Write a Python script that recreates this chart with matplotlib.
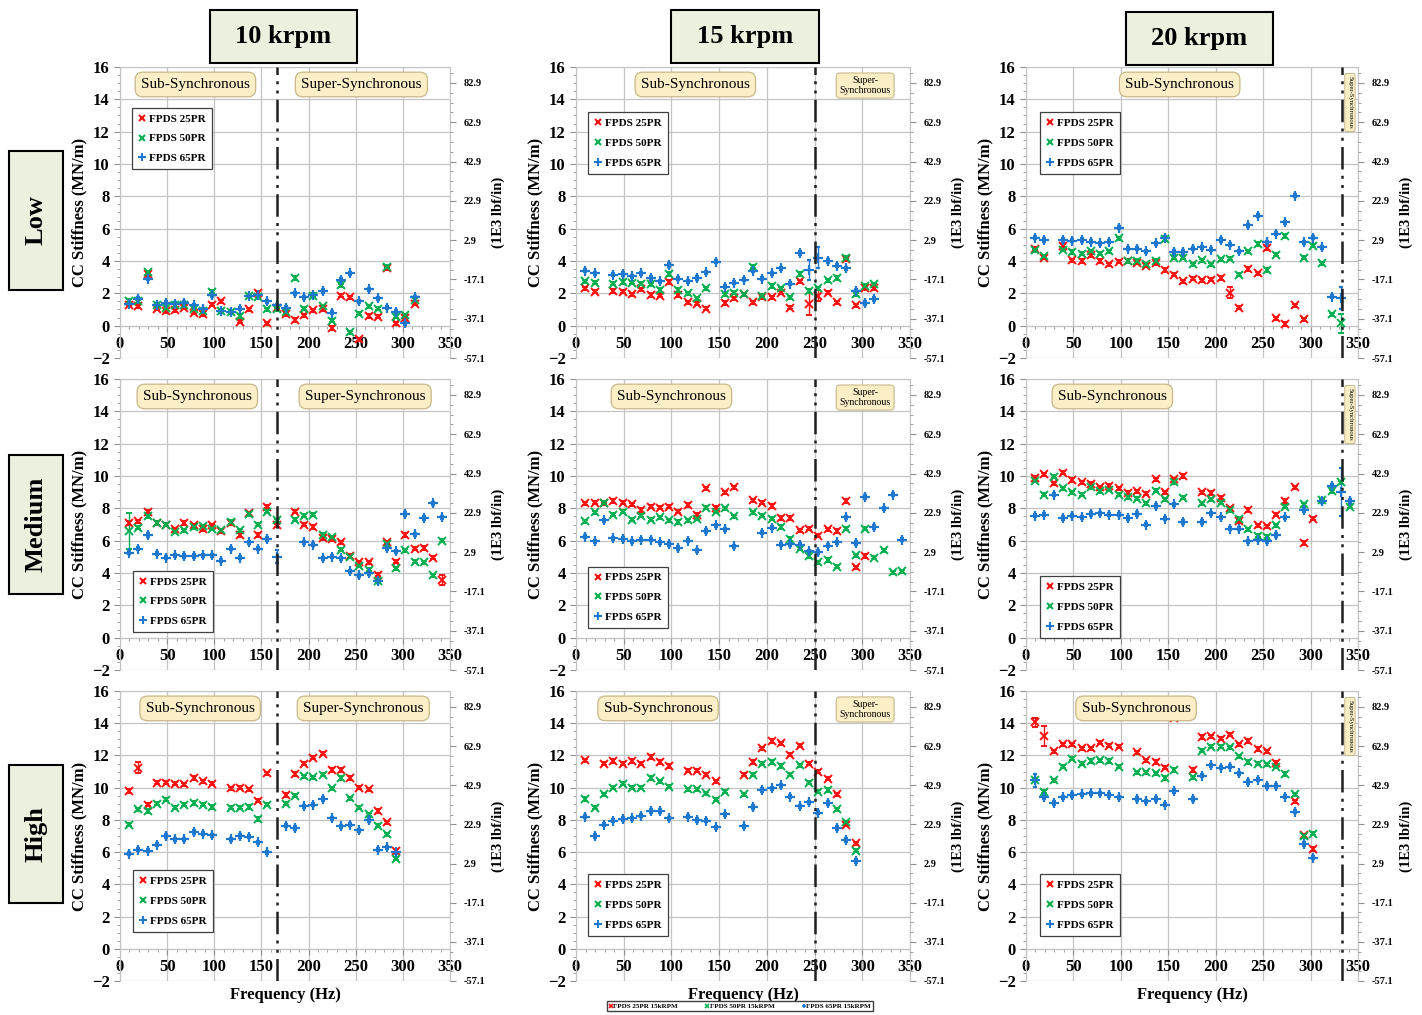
import numpy as np
import matplotlib
matplotlib.use("Agg")
import matplotlib.pyplot as plt
from matplotlib.patches import Rectangle
from matplotlib.ticker import MultipleLocator, AutoMinorLocator
from matplotlib.lines import Line2D

plt.rcParams['font.family'] = ['Liberation Serif', 'DejaVu Serif']

nan = np.nan

# excitation frequencies (Hz)
freq = [9.8, 19.5, 29.3, 39.1, 48.8, 58.6, 68.4, 78.1, 87.9, 97.7, 107.4, 117.2,
        127.0, 136.7, 146.5, 156.3, 166.0, 175.8, 185.5, 195.3, 205.1, 214.8,
        224.6, 234.4, 244.1, 253.9, 263.7, 273.4, 283.2, 293.0, 302.7, 312.5,
        322.3, 332.0, 341.8]

speeds = ['10 krpm', '15 krpm', '20 krpm']
loads = ['Low', 'Medium', 'High']
series_names = ['FPDS 25PR', 'FPDS 50PR', 'FPDS 65PR']
series_colors = ['#ff1010', '#00b050', '#1f78d0']
series_markers = ['x', 'x', '+']

# ---- Low load ----
low10_25 = [1.3, 1.2, 3.2, 1.05, 0.9, 0.95, 1.1, 0.8, 0.7, 1.3, 1.5, nan, 0.25, 1.0, 2.05, 0.15, 1.1, 0.7,
            0.35, 0.65, 0.95, 1.0, -0.15, 1.85, 1.75, -0.85, 0.6, 0.55, 3.55, 0.15, 0.5, 1.35, nan, nan, nan]
low10_50 = [1.55, 1.5, 3.3, 1.25, 1.1, 1.25, 1.25, 1.0, 0.9, 2.1, 0.9, 0.85, 0.6, 1.85, 1.8, 1.0, 1.0, 0.85,
            2.95, 1.05, 1.85, 1.2, 0.3, 2.5, -0.4, 0.75, 1.2, 1.05, 3.65, 0.55, 0.65, 1.6, nan, nan, nan]
low10_65 = [1.35, 1.65, 2.9, 1.3, 1.4, 1.35, 1.4, 1.25, 1.0, 1.9, 0.9, 0.85, 1.05, 1.85, 1.9, 1.5, 1.25, 1.1,
            2.0, 1.75, 1.9, 2.15, 0.8, 2.85, 3.25, 1.5, 2.25, 1.7, 1.1, 0.85, 0.15, 1.75, nan, nan, nan]

low15_25 = [2.3, 2.1, nan, 2.15, 2.1, 1.95, 2.25, 1.9, 1.85, 2.7, 1.9, 1.45, 1.35, 1.05, nan, 1.4, 1.7, 1.95,
            1.45, 1.75, 1.75, 2.05, 1.1, 2.75, 1.35, 1.85, 2.05, 1.45, 4.1, 1.25, 2.3, 2.3, nan, nan, nan]
low15_50 = [2.75, 2.65, nan, 2.6, 2.7, 2.65, 2.6, 2.55, 2.2, 3.2, 2.2, 2.0, 1.7, 2.3, nan, 1.95, 2.05, 1.95,
            3.65, 1.85, 2.45, 2.3, 1.75, 3.2, 2.15, 2.3, 2.8, 2.95, 4.2, 1.95, 2.45, 2.55, nan, nan, nan]
low15_65 = [3.4, 3.25, nan, 3.15, 3.2, 3.05, 3.25, 2.95, 2.75, 3.75, 2.9, 2.75, 2.95, 3.3, 3.95, 2.4, 2.65, 2.85,
            3.4, 2.9, 3.25, 3.55, 2.6, 4.5, 3.45, 4.2, 4.0, 3.7, 3.55, 2.15, 1.4, 1.65, nan, nan, nan]

low20_25 = [4.75, 4.2, nan, 4.95, 4.05, 4.0, 4.35, 4.0, 3.8, 3.95, 4.0, 3.9, 3.7, 3.85, 3.45, 3.15, 2.75, 2.9,
            2.8, 2.85, 2.95, 2.05, 1.1, 3.5, 3.25, 4.8, 0.45, 0.1, 1.25, 0.4, nan, nan, nan, nan, nan]
low20_50 = [4.65, 4.3, nan, 4.7, 4.55, 4.45, 4.6, 4.45, 4.6, 5.4, 4.0, 4.0, 3.8, 4.0, 5.35, 4.2, 4.2, 3.8,
            4.05, 3.8, 4.1, 4.15, 3.15, 4.6, 5.05, 3.45, 4.4, 5.55, nan, 4.2, 4.95, 3.85, 0.7, 0.15, nan]
low20_65 = [5.45, 5.3, nan, 5.3, 5.25, 5.3, 5.2, 5.1, 5.2, 6.05, 4.75, 4.75, 4.6, 5.1, 5.45, 4.55, 4.55, 4.75,
            4.85, 4.7, 5.3, 5.0, 4.6, 6.2, 6.8, 5.15, 5.7, 6.4, 8.05, 5.15, 5.45, 4.85, 1.8, 1.7, nan]

# ---- Medium load ----
med10_25 = [7.1, 7.2, 7.8, 7.1, 7.0, 6.7, 7.1, 6.95, 6.7, 6.95, 6.6, 7.1, 6.35, 7.7, 6.35, 8.1, 6.95, nan,
            7.8, 7.0, 6.85, 6.15, 6.1, 5.9, 5.05, 4.65, 4.65, 3.9, 5.9, 4.7, 6.35, 5.5, 5.55, 4.95, 3.55]
med10_50 = [6.6, 6.8, 7.5, 7.1, 7.0, 6.55, 6.65, 6.85, 6.9, 6.75, 6.65, 7.15, 6.65, 7.65, 7.0, 7.8, 7.25, nan,
            7.3, 7.55, 7.6, 6.35, 6.2, 5.45, 5.0, 4.45, 4.2, 3.5, 5.8, 4.3, 5.4, 4.7, 4.65, 3.85, 6.0]
med10_65 = [5.25, 5.5, 6.35, 5.2, 4.95, 5.1, 5.05, 5.05, 5.1, 5.1, 4.75, 5.5, 4.95, 5.9, 5.5, 6.1, 5.0, nan,
            nan, 5.9, 5.75, 4.9, 5.0, 4.9, 4.1, 3.85, 4.0, 3.5, 5.55, 5.35, 7.65, 6.4, 7.4, 8.3, 7.45]

med15_25 = [8.3, 8.35, 8.3, 8.45, 8.35, 8.25, 7.9, 8.1, 8.05, 8.1, 7.8, 8.2, 7.6, 9.25, 8.05, 9.0, 9.3, nan,
            8.5, 8.35, 8.15, 7.4, 7.4, 6.65, 6.75, 6.3, 6.7, 6.6, 8.45, 4.35, 5.05, nan, nan, nan, nan]
med15_50 = [7.2, 7.75, 8.35, 7.6, 7.8, 7.3, 7.55, 7.3, 7.45, 7.25, 7.15, 7.25, 7.35, 8.05, 7.8, 8.0, 7.5, nan,
            7.75, 7.55, 7.35, 6.85, 6.1, 5.5, 5.05, 4.65, 4.8, 4.4, 6.75, 5.1, 6.75, 4.95, 5.4, 4.05, 4.1]
med15_65 = [6.25, 5.95, 7.25, 6.15, 6.1, 5.95, 6.05, 6.05, 5.9, 5.8, 5.55, 6.0, 5.4, 6.6, 6.95, 6.7, 5.65, nan,
            nan, 6.5, 6.8, 5.75, 5.8, 5.75, 5.35, 5.3, 5.7, 5.9, 7.45, 5.85, 8.7, 6.85, 8.0, 8.85, 6.05]

med20_25 = [9.9, 10.1, 9.55, 10.2, 9.75, 9.6, 9.5, 9.3, 9.4, 9.25, 8.95, 9.05, 8.9, 9.8, 9.0, 9.8, 10.0, nan,
            9.0, 8.95, 8.65, 8.0, 7.2, 7.9, 6.95, 6.9, 7.6, 8.45, 9.3, 5.85, 7.35, nan, nan, nan, nan]
med20_50 = [9.7, 8.85, 9.95, 9.25, 9.0, 8.85, 9.3, 9.05, 9.15, 8.85, 8.7, 8.6, 8.3, 9.1, 8.55, 9.6, 8.65, nan,
            8.3, 8.55, 8.35, 7.9, 7.35, 6.7, 6.3, 6.25, 6.95, 8.1, nan, 8.25, nan, 8.5, 9.05, 9.6, 8.1]
med20_65 = [7.55, 7.6, 8.85, 7.4, 7.55, 7.45, 7.65, 7.7, 7.6, 7.6, 7.4, 7.65, 7.0, 8.15, 7.35, 8.25, 7.15, nan,
            7.15, 7.7, 7.45, 6.75, 6.75, 5.95, 6.05, 5.95, 6.35, 7.45, nan, 7.9, nan, 8.45, 9.4, 9.0, 8.45]

# ---- High load ----
high10_25 = [9.8, 11.25, 8.95, 10.3, 10.3, 10.25, 10.2, 10.6, 10.4, 10.25, nan, 9.95, 10.0, 9.9, 9.2, 10.9, nan,
             9.55, 10.85, 11.5, 11.85, 12.1, 11.1, 11.1, 10.6, 10.0, 9.9, 8.55, 7.85, 6.1, nan, nan, nan, nan, nan]
high10_50 = [7.7, 8.65, 8.55, 9.0, 9.25, 8.75, 8.95, 9.05, 8.95, 8.8, nan, 8.75, 8.75, 8.8, 8.05, 8.95, nan,
             9.0, 9.5, 10.7, 10.65, 10.8, 9.95, 10.6, 9.35, 8.75, 8.35, 7.65, 7.1, 5.6, nan, nan, nan, nan, nan]
high10_65 = [5.9, 6.15, 6.1, 6.45, 7.0, 6.8, 6.8, 7.25, 7.15, 7.05, nan, 6.8, 7.0, 6.95, 6.6, 6.0, nan,
             7.65, 7.5, 8.85, 8.95, 9.3, 8.1, 7.6, 7.7, 7.35, 8.0, 6.15, 6.3, 6.0, nan, nan, nan, nan, nan]

high15_25 = [11.7, nan, 11.5, 11.65, 11.5, 11.65, 11.5, 11.9, 11.6, 11.35, nan, 11.05, 11.05, 10.8, 10.4, nan, nan,
             10.8, 11.6, 12.45, 12.9, 12.75, 12.05, 12.6, 11.5, 11.0, 10.55, 9.6, 7.7, 6.55, nan, nan, nan, nan, nan]
high15_50 = [9.3, 8.75, 9.6, 10.0, 10.25, 10.0, 10.0, 10.6, 10.4, 10.05, nan, 9.9, 9.9, 9.65, 9.25, 9.75, nan,
             9.6, 10.8, 11.5, 11.6, 11.35, 10.8, 11.4, 10.3, 9.75, 9.85, 8.65, 7.85, 6.1, nan, nan, nan, nan, nan]
high15_65 = [8.2, 7.0, 7.7, 7.95, 8.05, 8.1, 8.25, 8.55, 8.55, 8.1, nan, 8.2, 8.0, 7.95, 7.55, 8.35, nan,
             7.6, 8.8, 9.85, 9.95, 10.15, 9.45, 8.85, 9.1, 8.45, 9.05, 7.5, 6.75, 5.45, nan, nan, nan, nan, nan]

high20_25 = [14.05, 13.2, 12.25, 12.7, 12.7, 12.45, 12.45, 12.8, 12.6, 12.55, nan, 12.2, 11.7, 11.6, 11.25, 14.3, nan,
             11.1, 13.15, 13.2, 13.05, 13.3, 12.7, 12.9, 12.4, 12.25, 11.55, nan, 9.15, 7.05, 6.2, nan, nan, nan, nan]
high20_50 = [10.5, 9.75, 10.45, 11.3, 11.8, 11.5, 11.65, 11.7, 11.65, 11.3, nan, 10.95, 10.95, 10.9, 10.6, 11.1, nan,
             10.65, 12.3, 12.55, 12.55, 12.5, 11.95, 11.6, 11.5, 11.45, 11.3, 10.85, 9.6, 7.0, 7.15, nan, nan, nan, nan]
high20_65 = [10.45, 9.4, 9.05, 9.4, 9.55, 9.6, 9.65, 9.65, 9.55, 9.4, nan, 9.3, 9.15, 9.3, 8.95, 9.8, nan,
             9.3, 10.75, 11.4, 11.25, 11.3, 10.9, 10.35, 10.5, 10.1, 10.1, 9.45, 8.5, 6.5, 5.65, nan, nan, nan, nan]

# uncertainty: small default plus the wide ones as (series, point index, +/-)
err_default = 0.1
low_errs = [[], [(0, 24, 0.7), (2, 24, 0.6), (0, 25, 0.35), (2, 25, 0.65)],
            [(0, 21, 0.35), (1, 33, 0.6), (2, 33, 0.7)]]
med_errs = [[(1, 0, 1.1), (2, 16, 0.4), (0, 34, 0.3)], [], [(2, 33, 1.5)]]
high_errs = [[(0, 1, 0.35)], [], [(0, 0, 0.3), (0, 1, 0.6), (2, 0, 0.4)]]

# sync frequency per speed (Hz)
sync_freq = [166.7, 250.0, 333.3]

panel_data = [
    [(low10_25, low10_50, low10_65), (low15_25, low15_50, low15_65), (low20_25, low20_50, low20_65)],
    [(med10_25, med10_50, med10_65), (med15_25, med15_50, med15_65), (med20_25, med20_50, med20_65)],
    [(high10_25, high10_50, high10_65), (high15_25, high15_50, high15_65), (high20_25, high20_50, high20_65)],
]
panel_errs = [low_errs, med_errs, high_errs]

# label box positions (data coords)
sub_x = [[80, 125, 162], [82, 100, 91], [85, 86, 116]]
super_x_col1 = [256, 260, 258]

# legend anchors (axes coords), top row upper-left, others lower-left
leg_pos = [[(0.037, 0.86), (0.036, 0.845), (0.042, 0.845)],
           [(0.04, 0.13), (0.036, 0.144), (0.042, 0.11)],
           [(0.04, 0.17), (0.036, 0.155), (0.042, 0.155)]]

W, H = 1422, 1015
fig = plt.figure(figsize=(W / 100, H / 100), dpi=100)

col_x = [(120, 450), (576, 910), (1026, 1358)]
row_y = [(67, 358), (379, 670), (691, 981)]

right_ticks = [-57.1, -37.1, -17.1, 2.9, 22.9, 42.9, 62.9, 82.9]
grid_c = '#c4c4c4'
box_fc = '#fcefc8'
box_ec = '#c8b888'

for r in range(3):
    for c in range(3):
        x0, x1 = col_x[c]
        y0, y1 = row_y[r]
        ax = fig.add_axes([x0 / W, 1 - y1 / H, (x1 - x0) / W, (y1 - y0) / H])
        ax.set_xlim(0, 350)
        ax.set_ylim(-2, 16)
        ax.xaxis.set_major_locator(MultipleLocator(50))
        ax.xaxis.set_minor_locator(MultipleLocator(10))
        ax.yaxis.set_major_locator(MultipleLocator(2))
        ax.yaxis.set_minor_locator(MultipleLocator(0.5))
        ax.grid(True, which='major', color=grid_c, lw=0.9, zorder=0)
        ax.set_axisbelow(True)
        for s in ['top', 'left', 'right', 'bottom']:
            ax.spines[s].set_color(grid_c)
        ax.spines['bottom'].set_position(('data', 0))
        ax.tick_params(axis='both', which='both', color='#909090')
        ax.tick_params(axis='both', which='major', length=4, labelsize=12)
        ax.tick_params(axis='both', which='minor', length=2)
        for lab in ax.get_xticklabels() + ax.get_yticklabels():
            lab.set_fontweight('bold')
        ax.set_ylabel('CC Stiffness (MN/m)', fontsize=12, fontweight='bold', labelpad=3)
        if r == 2:
            ax.set_xlabel('Frequency (Hz)', fontsize=12, fontweight='bold')
            ax.xaxis.set_label_coords(0.5, -0.02)

        ax2 = ax.twinx()
        ax2.set_ylim(-57.1, -57.1 + 18 * 8.23)
        ax2.set_yticks(right_ticks)
        ax2.set_yticklabels([f'{v:.1f}' for v in right_ticks], fontsize=7.5, fontweight='bold')
        ax2.yaxis.set_minor_locator(AutoMinorLocator(4))
        ax2.tick_params(axis='y', which='both', color='#909090')
        ax2.tick_params(axis='y', which='major', length=4, pad=6)
        ax2.tick_params(axis='y', which='minor', length=2)
        for s in ax2.spines.values():
            s.set_visible(False)
        ax2.set_ylabel('(1E3 lbf/in)', fontsize=10.5, fontweight='bold', labelpad=4)

        series = panel_data[r][c]
        for i, vals in enumerate(series):
            y = np.array(vals, dtype=float)
            x = np.array(freq)
            e = np.full(len(y), err_default)
            for si, pi, ev in panel_errs[r][c]:
                if si == i:
                    e[pi] = ev
            ok = ~np.isnan(y)
            plus = series_markers[i] == '+'
            ax.errorbar(x[ok], y[ok], yerr=e[ok], fmt=series_markers[i],
                        color=series_colors[i], ms=7 if plus else 5.5, mew=1.6 if plus else 1.4,
                        elinewidth=1.0, capsize=1.6 if plus else 2.4, capthick=1.1, zorder=3)

        ax.axvline(sync_freq[c], color='#202020', lw=1.8,
                   dashes=(9, 2.5, 1.2, 2.5, 1.2, 2.5), zorder=4)

        box = dict(boxstyle='round,pad=0.38,rounding_size=0.5', fc=box_fc, ec=box_ec, lw=0.9)
        ax.text(sub_x[r][c], 14.92, 'Sub-Synchronous', fontsize=11, ha='center',
                va='center', bbox=box, zorder=6)
        if c == 0:
            ax.text(super_x_col1[r], 14.92, 'Super-Synchronous', fontsize=11, ha='center',
                    va='center', bbox=box, zorder=6)
        elif c == 1:
            ax.text(303, 14.85, 'Super-\nSynchronous', fontsize=7, ha='center', va='center',
                    linespacing=1.05, zorder=6,
                    bbox=dict(boxstyle='round,pad=0.35,rounding_size=0.4', fc=box_fc, ec=box_ec, lw=0.8))
        else:
            ax.text(341.5, 13.8, 'Super-Synchronous', fontsize=4.8, ha='center', va='center',
                    rotation=-90, zorder=6,
                    bbox=dict(boxstyle='round,pad=0.4,rounding_size=0.3', fc=box_fc, ec=box_ec, lw=0.7))

        handles = [Line2D([], [], ls='none', marker=m, color=col,
                          ms=6 if m == '+' else 5, mew=1.5)
                   for m, col in zip(series_markers, series_colors)]
        leg = ax.legend(handles, series_names, loc='upper left' if r == 0 else 'lower left',
                        bbox_to_anchor=leg_pos[r][c], borderaxespad=0,
                        prop=dict(weight='bold', size=8), fancybox=False,
                        edgecolor='#404040', framealpha=1, handlelength=0.7,
                        handletextpad=0.3, labelspacing=0.9, borderpad=0.55)
        leg.get_frame().set_linewidth(0.9)
        leg.set_zorder(7)

# speed headers
hdr_boxes = [(210, 10, 357, 63), (671, 10, 819, 63), (1126, 12, 1273, 65)]
for (bx0, by0, bx1, by1), txt in zip(hdr_boxes, speeds):
    fig.patches.append(Rectangle((bx0 / W, 1 - by1 / H), (bx1 - bx0) / W, (by1 - by0) / H,
                                 transform=fig.transFigure, fc='#ebf1de', ec='black', lw=1.5))
    fig.text((bx0 + bx1) / 2 / W, 1 - (by0 + by1) / 2 / H, txt, fontsize=19,
             fontweight='bold', ha='center', va='center')

# load labels
load_boxes = [(9, 151, 63, 290), (9, 455, 63, 594), (9, 765, 63, 903)]
for (bx0, by0, bx1, by1), txt in zip(load_boxes, loads):
    fig.patches.append(Rectangle((bx0 / W, 1 - by1 / H), (bx1 - bx0) / W, (by1 - by0) / H,
                                 transform=fig.transFigure, fc='#ebf1de', ec='black', lw=1.5))
    fig.text((bx0 + bx1) / 2 / W, 1 - (by0 + by1) / 2 / H, txt, fontsize=19,
             fontweight='bold', ha='center', va='center', rotation=90)

# small legend under the middle column
small = [Line2D([], [], ls='none', marker=m, color=col, ms=3.5, mew=1.2)
         for m, col in zip(series_markers, series_colors)]
fig.legend(small, [n + ' 15kRPM' for n in series_names], loc='center',
           bbox_to_anchor=(740 / W, 1 - 1006 / H), ncol=3, prop=dict(weight='bold', size=5),
           fancybox=False, edgecolor='#404040', framealpha=1, handlelength=0.5,
           handletextpad=0.1, columnspacing=4, borderpad=0.25)

fig.savefig('out.png', dpi=100)
